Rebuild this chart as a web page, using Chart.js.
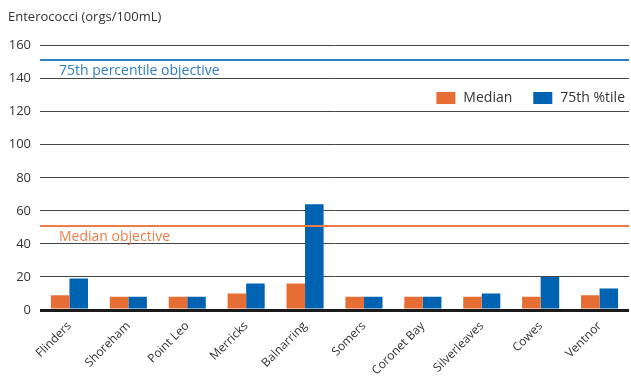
<!DOCTYPE html>
<html>
<head>
<meta charset="utf-8">
<script src="https://cdn.jsdelivr.net/npm/chart.js@4"></script>
<style>
  html, body { margin: 0; padding: 0; background: #fff; }
  #wrap { width: 631px; height: 376px; }
</style>
</head>
<body>
<div id="wrap"><canvas id="chart"></canvas></div>
<script>
// Beach sites and enterococci results
var sites = ['Flinders', 'Shoreham', 'Point Leo', 'Merricks', 'Balnarring', 'Somers', 'Coronet Bay', 'Silverleaves', 'Cowes', 'Ventnor'];
var median = [9, 8, 8, 10, 16, 8, 8, 8, 8, 9];
var pct75 = [19, 8, 8, 16, 64, 8, 8, 10, 20, 13];
var yTicks = [0, 20, 40, 60, 80, 100, 120, 140, 160];

// Objective reference lines
var objectives = [
    { value: 151, label: '75th percentile objective', color: '#2F7DC2' },
    { value: 51, label: 'Median objective', color: '#EC7C48' }
];

var ORANGE = '#E66E35';
var BLUE = '#0063B1';
var FONT = "'Open Sans', sans-serif";

// Draws the objective lines with their captions
var objectiveLines = {
    id: 'objectiveLines',
    afterDatasetsDraw: function(chart) {
        var ctx = chart.ctx;
        var area = chart.chartArea;
        var y = chart.scales.y;
        ctx.save();
        objectives.forEach(function(o) {
            var py = Math.round(y.getPixelForValue(o.value));
            ctx.strokeStyle = o.color;
            ctx.lineWidth = 2;
            ctx.beginPath();
            ctx.moveTo(area.left, py);
            ctx.lineTo(area.right, py);
            ctx.stroke();
            ctx.fillStyle = o.color;
            ctx.font = '14px ' + FONT;
            ctx.textBaseline = 'middle';
            ctx.fillText(o.label, area.left + 19, py + 11);
        });
        ctx.restore();
    }
};

// Legend drawn inside the plot at the top right
var insideLegend = {
    id: 'insideLegend',
    afterDraw: function(chart) {
        var ctx = chart.ctx;
        var area = chart.chartArea;
        ctx.save();
        ctx.font = '14px ' + FONT;
        ctx.textBaseline = 'middle';
        var items = chart.data.datasets.map(function(d) {
            return { text: d.label, color: d.backgroundColor };
        });
        var x = area.right - 4;
        var cy = 98;
        for (var i = items.length - 1; i >= 0; i--) {
            var w = ctx.measureText(items[i].text).width;
            x -= w;
            ctx.fillStyle = '#333';
            ctx.fillText(items[i].text, x, cy);
            x -= 8 + 19;
            ctx.fillStyle = items[i].color;
            ctx.fillRect(x, cy - 6, 19, 12);
            x -= 21;
        }
        ctx.restore();
    }
};

new Chart(document.getElementById('chart'), {
    type: 'bar',
    data: {
        labels: sites,
        datasets: [{
            label: 'Median',
            data: median,
            backgroundColor: ORANGE
        }, {
            label: '75th %tile',
            data: pct75,
            backgroundColor: BLUE
        }]
    },
    options: {
        responsive: true,
        maintainAspectRatio: false,
        animation: false,
        layout: { padding: { left: 8, right: 2, top: 2, bottom: 0 } },
        datasets: {
            bar: { categoryPercentage: 0.63, barPercentage: 1 }
        },
        plugins: {
            legend: { display: false },
            tooltip: { enabled: false },
            title: {
                display: true,
                text: 'Enterococci (orgs/100mL)',
                align: 'start',
                color: '#333',
                font: { family: FONT, size: 13, weight: 'normal' },
                padding: { top: 7, bottom: 21 }
            }
        },
        scales: {
            x: {
                afterFit: function(scale) { scale.height = 66; },
                grid: { display: false },
                border: { display: false },
                ticks: {
                    color: '#333',
                    font: { family: FONT, size: 12 },
                    minRotation: 45,
                    maxRotation: 45,
                    padding: 1
                }
            },
            y: {
                min: 0,
                max: 160,
                afterBuildTicks: function(scale) {
                    scale.ticks = yTicks.map(function(v) { return { value: v }; });
                },
                afterFit: function(scale) { scale.width = 32; },
                border: { display: false },
                grid: {
                    drawTicks: false,
                    color: function(c) { return c.tick && c.tick.value === 0 ? '#1a1a1a' : '#444'; },
                    lineWidth: function(c) { return c.tick && c.tick.value === 0 ? 3 : 1; }
                },
                ticks: {
                    color: '#333',
                    padding: 9,
                    font: { family: FONT, size: 13 }
                }
            }
        }
    },
    plugins: [objectiveLines, insideLegend]
});
</script>
</body>
</html>
